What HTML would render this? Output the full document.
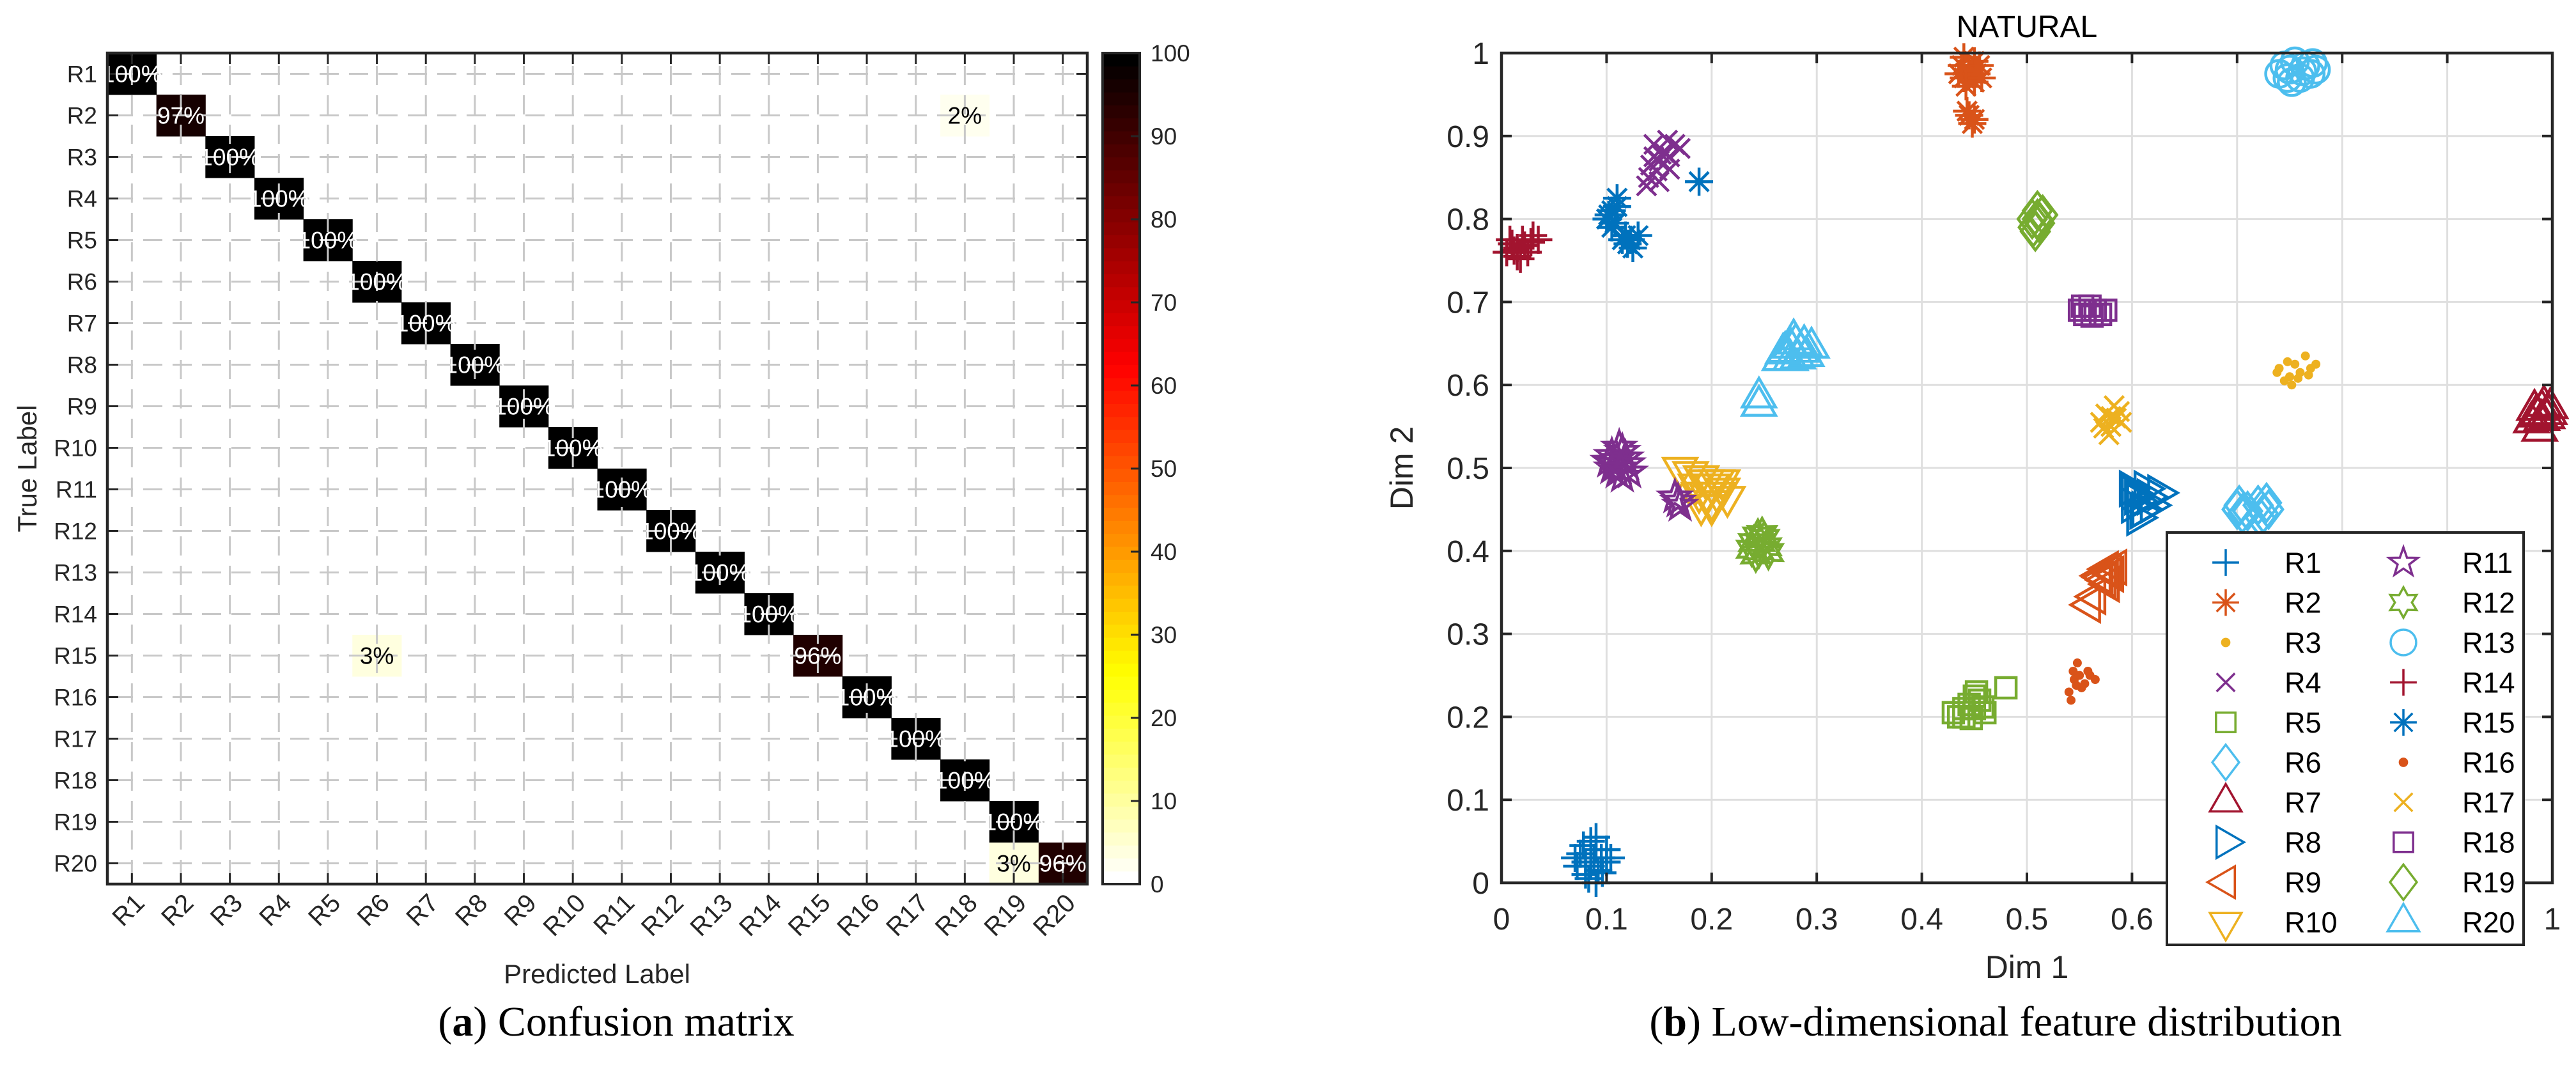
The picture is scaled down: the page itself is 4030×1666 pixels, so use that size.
<!DOCTYPE html>
<html><head><meta charset="utf-8"><style>
html,body{margin:0;padding:0;background:#fff;}
svg{display:block;}
text{font-family:"Liberation Sans",Arial,sans-serif;}
.cap{font-family:"Liberation Serif","Times New Roman",serif;}
</style></head><body>
<svg id="fig" width="4030" height="1666" viewBox="0 0 4030 1666" xmlns="http://www.w3.org/2000/svg">
<rect width="4030" height="1666" fill="#fff"/>
<g id="cm"></g>
<g id="sc"></g>
<text class="cap" x="964" y="1620" font-size="66" text-anchor="middle" fill="#000">(<tspan font-weight="bold">a</tspan>) Confusion matrix</text>
<text class="cap" x="3122" y="1620" font-size="66" text-anchor="middle" fill="#000">(<tspan font-weight="bold">b</tspan>) Low-dimensional feature distribution</text>
</svg>
<script>
// ===== Confusion matrix data =====
const classLabels = ["R1","R2","R3","R4","R5","R6","R7","R8","R9","R10","R11","R12","R13","R14","R15","R16","R17","R18","R19","R20"];
const diagValues = [100,97,100,100,100,100,100,100,100,100,100,100,100,100,96,100,100,100,100,96];
const offRows = [1,14,19];
const offCols = [17,5,18];
const offValues = [2,3,3];
const cbTicks = [0,10,20,30,40,50,60,70,80,90,100];

// ===== Scatter data =====
const dimTicks = [0,0.1,0.2,0.3,0.4,0.5,0.6,0.7,0.8,0.9,1];
const seriesNames = ["R1","R2","R3","R4","R5","R6","R7","R8","R9","R10","R11","R12","R13","R14","R15","R16","R17","R18","R19","R20"];
const r1 = [[0.075,0.035],[0.085,0.02],[0.09,0.04],[0.08,0.01],[0.095,0.03],[0.1,0.025],[0.085,0.05],[0.07,0.03],[0.09,0.0],[0.1,0.04],[0.08,0.025],[0.092,0.015],[0.078,0.045],[0.088,0.03],[0.096,0.012],[0.083,0.005],[0.104,0.03],[0.072,0.02],[0.09,0.055]];
const r2 = [[0.44,0.97],[0.45,0.99],[0.445,0.98],[0.435,0.975],[0.455,0.985],[0.45,0.965],[0.44,0.995],[0.448,0.975],[0.438,0.985],[0.452,0.975],[0.442,0.96],[0.457,0.97],[0.445,0.925],[0.448,0.915],[0.443,0.93],[0.45,0.92]];
const r3 = [[0.74,0.62],[0.75,0.61],[0.755,0.625],[0.76,0.615],[0.77,0.62],[0.775,0.625],[0.745,0.605],[0.765,0.635],[0.752,0.6],[0.738,0.615],[0.748,0.628],[0.758,0.608],[0.768,0.612]];
const r4 = [[0.14,0.85],[0.15,0.87],[0.155,0.88],[0.16,0.86],[0.145,0.89],[0.165,0.89],[0.15,0.845],[0.16,0.875],[0.142,0.865],[0.148,0.858],[0.158,0.895],[0.152,0.878],[0.138,0.84],[0.17,0.885],[0.145,0.875]];
const r5 = [[0.43,0.205],[0.44,0.2],[0.45,0.21],[0.455,0.22],[0.46,0.205],[0.445,0.215],[0.45,0.225],[0.44,0.21],[0.435,0.2],[0.447,0.198],[0.458,0.212],[0.452,0.23],[0.48,0.235]];
const r6 = [[0.7,0.45],[0.705,0.445],[0.72,0.455],[0.725,0.445],[0.73,0.45],[0.71,0.448],[0.702,0.455],[0.722,0.44],[0.728,0.458]];
const r7 = [[0.985,0.565],[0.99,0.57],[0.995,0.56],[0.98,0.555],[0.992,0.575],[0.988,0.545],[0.997,0.565],[0.983,0.57],[0.99,0.558],[0.998,0.572],[0.986,0.562]];
const r8 = [[0.6,0.47],[0.605,0.46],[0.61,0.45],[0.615,0.465],[0.625,0.47],[0.605,0.44],[0.6,0.455],[0.612,0.475],[0.603,0.465],[0.608,0.448],[0.618,0.455],[0.598,0.475]];
const r9 = [[0.57,0.37],[0.575,0.365],[0.58,0.375],[0.585,0.38],[0.578,0.36],[0.572,0.368],[0.582,0.372],[0.577,0.378],[0.56,0.335],[0.565,0.345]];
const r10 = [[0.17,0.5],[0.18,0.495],[0.19,0.49],[0.2,0.48],[0.21,0.475],[0.195,0.47],[0.2,0.46],[0.185,0.48],[0.215,0.465],[0.205,0.485],[0.19,0.455],[0.195,0.485],[0.205,0.47],[0.188,0.47],[0.21,0.485],[0.2,0.455]];
const r11 = [[0.105,0.5],[0.11,0.51],[0.115,0.52],[0.11,0.495],[0.12,0.505],[0.105,0.515],[0.115,0.49],[0.108,0.505],[0.118,0.512],[0.112,0.525],[0.102,0.508],[0.122,0.495],[0.113,0.5],[0.168,0.46],[0.165,0.465],[0.17,0.455]];
const r12 = [[0.24,0.41],[0.245,0.4],[0.25,0.415],[0.248,0.42],[0.242,0.395],[0.252,0.405],[0.246,0.41],[0.238,0.402],[0.254,0.398],[0.244,0.418]];
const r13 = [[0.74,0.975],[0.75,0.98],[0.76,0.97],[0.765,0.985],[0.775,0.98],[0.755,0.99],[0.745,0.985],[0.77,0.975],[0.752,0.965],[0.762,0.978],[0.748,0.97],[0.772,0.988]];
const r14 = [[0.005,0.76],[0.015,0.765],[0.02,0.775],[0.01,0.77],[0.025,0.76],[0.035,0.775],[0.015,0.755],[0.03,0.78],[0.012,0.762],[0.022,0.768],[0.018,0.752],[0.008,0.775],[0.028,0.772]];
const r15 = [[0.1,0.8],[0.105,0.81],[0.11,0.825],[0.105,0.79],[0.115,0.775],[0.12,0.77],[0.13,0.78],[0.125,0.765],[0.102,0.805],[0.108,0.795],[0.118,0.78],[0.123,0.775],[0.11,0.815],[0.188,0.845]];
const r16 = [[0.54,0.23],[0.545,0.245],[0.55,0.25],[0.555,0.24],[0.56,0.25],[0.565,0.245],[0.548,0.265],[0.542,0.22],[0.552,0.235],[0.547,0.238],[0.558,0.255],[0.544,0.255]];
const r17 = [[0.57,0.555],[0.575,0.565],[0.58,0.55],[0.585,0.56],[0.59,0.555],[0.578,0.54],[0.583,0.575],[0.573,0.548],[0.588,0.568],[0.58,0.562]];
const r18 = [[0.55,0.69],[0.555,0.685],[0.56,0.695],[0.565,0.69],[0.575,0.69],[0.57,0.685],[0.553,0.695],[0.562,0.683]];
const r19 = [[0.505,0.8],[0.51,0.81],[0.512,0.795],[0.508,0.785],[0.515,0.805],[0.506,0.79],[0.51,0.8]];
const r20 = [[0.265,0.63],[0.27,0.64],[0.275,0.645],[0.28,0.65],[0.285,0.64],[0.29,0.635],[0.295,0.645],[0.275,0.63],[0.268,0.638],[0.282,0.632],[0.278,0.655],[0.288,0.648],[0.245,0.575],[0.245,0.585]];
const seriesPoints = [r1,r2,r3,r4,r5,r6,r7,r8,r9,r10,r11,r12,r13,r14,r15,r16,r17,r18,r19,r20];
const seriesColors = ["#0072BD","#D95319","#EDB120","#7E2F8E","#77AC30","#4DBEEE","#A2142F","#0072BD","#D95319","#EDB120","#7E2F8E","#77AC30","#4DBEEE","#A2142F","#0072BD","#D95319","#EDB120","#7E2F8E","#77AC30","#4DBEEE"];
const seriesMarkers = ["+","*",".","x","s","d","^",">","<","v","p","h","o","+","*",".","x","s","d","^"];

const NS="http://www.w3.org/2000/svg";
function mk(tag,attrs,parent){const e=document.createElementNS(NS,tag);for(const k in attrs)e.setAttribute(k,attrs[k]);if(parent)parent.appendChild(e);return e;}

// ---------- Confusion matrix ----------
const cm=document.getElementById('cm');
const X0=168,Y0=83,X1=1701,Y1=1383,N=classLabels.length;
const cw=(X1-X0)/N,ch=(Y1-Y0)/N;
function colX(i){return X0+i*cw;}
function rowY(i){return Y0+i*ch;}
function hotR(v){const s=1-v/100;const r=Math.min(1,s/0.375),g=Math.max(0,Math.min(1,(s-0.375)/0.375)),b=Math.max(0,Math.min(1,(s-0.75)/0.25));return `rgb(${Math.round(r*255)},${Math.round(g*255)},${Math.round(b*255)})`;}
function quant(v){return Math.round(v/100*63)/63*100;}
const cells=[];
diagValues.forEach((v,i)=>cells.push([i,i,v]));
offValues.forEach((v,k)=>cells.push([offRows[k],offCols[k],v]));
cells.forEach(([r,c,v])=>{
  const rc=mk('rect',{x:colX(c),y:rowY(r),width:cw+0.5,height:ch+0.5,fill:hotR(quant(v))},cm);
  
  
});
for(let i=0;i<N;i++){
  const cx=colX(i)+cw/2, cy=rowY(i)+ch/2;
  const gv=mk('line',{x1:cx,y1:Y0,x2:cx,y2:Y1,stroke:'#c8c8c8','stroke-width':3,'stroke-dasharray':'30 16','stroke-dashoffset':'-20'},cm);
  
  
  const gh=mk('line',{x1:X0,y1:cy,x2:X1,y2:cy,stroke:'#c8c8c8','stroke-width':3,'stroke-dasharray':'30 16','stroke-dashoffset':'-10'},cm);
  
  
  mk('line',{x1:X0,y1:cy,x2:X0+17,y2:cy,stroke:'#262626','stroke-width':3},cm);
  mk('line',{x1:X1,y1:cy,x2:X1-17,y2:cy,stroke:'#262626','stroke-width':3},cm);
  mk('line',{x1:cx,y1:Y0,x2:cx,y2:Y0+17,stroke:'#262626','stroke-width':3},cm);
  mk('line',{x1:cx,y1:Y1,x2:cx,y2:Y1-17,stroke:'#262626','stroke-width':3},cm);
  const yl=mk('text',{x:X0-16,y:cy+13,'font-size':37,'text-anchor':'end',fill:'#262626'},cm);
  yl.textContent=classLabels[i];
  
  
  const xl=mk('text',{x:0,y:0,'font-size':40,'text-anchor':'end',fill:'#262626',transform:`translate(${cx+22},${Y1+32}) rotate(-45)`},cm);
  xl.textContent=classLabels[i];
  
  
}
cells.forEach(([r,c,v])=>{
  const t=mk('text',{x:colX(c)+cw/2,y:rowY(r)+ch/2+13,'font-size':37,'text-anchor':'middle',fill:v>50?'#fff':'#000'},cm);
  t.textContent=v+'%';
  
  
});
mk('rect',{x:X0,y:Y0,width:X1-X0,height:Y1-Y0,fill:'none',stroke:'#262626','stroke-width':4.5},cm);
let t=mk('text',{x:934,y:1538,'font-size':42,'text-anchor':'middle',fill:'#262626'},cm);
t.textContent='Predicted Label';


t=mk('text',{x:0,y:0,'font-size':42,'text-anchor':'middle',fill:'#262626',transform:'translate(57,733) rotate(-90)'},cm);
t.textContent='True Label';


const CB0=1725,CB1=1783;
const cbG=mk('g',{},cm);


for(let k=0;k<64;k++){
  const y0=Y1-(k+1)*(Y1-Y0)/64;
  mk('rect',{x:CB0,y:y0,width:CB1-CB0,height:(Y1-Y0)/64+0.6,fill:hotR(k/63*100)},cbG);
}
mk('rect',{x:CB0,y:Y0,width:CB1-CB0,height:Y1-Y0,fill:'none',stroke:'#262626','stroke-width':4},cbG);
function cbY(v){return Y1-(v-cbTicks[0])/(cbTicks[cbTicks.length-1]-cbTicks[0])*(Y1-Y0);}
cbTicks.forEach(v=>{
  const y=cbY(v);
  mk('line',{x1:CB1,y1:y,x2:CB1-14,y2:y,stroke:'#262626','stroke-width':3},cbG);
  const l=mk('text',{x:1800,y:y+13,'font-size':37,fill:'#262626'},cbG);
  l.textContent=v;
  
  
});

// ---------- Scatter ----------
const sc=document.getElementById('sc');
const RX0=2349,RX1=3993,RY0=83,RY1=1381;
function sx(v){return RX0+(v-dimTicks[0])/(dimTicks[dimTicks.length-1]-dimTicks[0])*(RX1-RX0);}
function sy(v){return RY1-(v-dimTicks[0])/(dimTicks[dimTicks.length-1]-dimTicks[0])*(RY1-RY0);}
dimTicks.forEach(v=>{
  const x=sx(v),y=sy(v);
  mk('line',{x1:x,y1:RY0,x2:x,y2:RY1,stroke:'#dfdfdf','stroke-width':3},sc);
  mk('line',{x1:RX0,y1:y,x2:RX1,y2:y,stroke:'#dfdfdf','stroke-width':3},sc);
});
function marker(g,type,cx,cy,color,sc1,swd){
  const s=sc1||1,sw=swd||3.5;const st={stroke:color,'stroke-width':sw,fill:'none'};
  const P=(pts)=>mk('polygon',Object.assign({points:pts.map(p=>(cx+p[0]*s)+','+(cy+p[1]*s)).join(' ')},st),g);
  if(type==='+'){mk('path',Object.assign({d:`M${cx-22*s} ${cy}H${cx+22*s}M${cx} ${cy-22*s}V${cy+22*s}`},st),g);}
  else if(type==='x'){mk('path',Object.assign({d:`M${cx-15*s} ${cy-15*s}L${cx+15*s} ${cy+15*s}M${cx-15*s} ${cy+15*s}L${cx+15*s} ${cy-15*s}`},st),g);}
  else if(type==='*'){mk('path',Object.assign({d:`M${cx-22*s} ${cy}H${cx+22*s}M${cx} ${cy-22*s}V${cy+22*s}M${cx-15*s} ${cy-15*s}L${cx+15*s} ${cy+15*s}M${cx-15*s} ${cy+15*s}L${cx+15*s} ${cy-15*s}`},st),g);}
  else if(type==='.'){mk('circle',{cx:cx,cy:cy,r:7*s,fill:color},g);}
  else if(type==='s'){mk('rect',Object.assign({x:cx-16*s,y:cy-16*s,width:32*s,height:32*s},st),g);}
  else if(type==='d'){P([[0,-29],[22,0],[0,29],[-22,0]]);}
  else if(type==='^'){P([[0,-30],[26,15],[-26,15]]);}
  else if(type==='v'){P([[0,30],[26,-15],[-26,-15]]);}
  else if(type==='>'){P([[30,0],[-15,-26],[-15,26]]);}
  else if(type==='<'){P([[-30,0],[15,-26],[15,26]]);}
  else if(type==='o'){mk('ellipse',Object.assign({cx:cx,cy:cy,rx:21*s,ry:21*s},st),g);}
  else if(type==='p'){const pts=[];for(let k=0;k<10;k++){const a=-Math.PI/2+k*Math.PI/5,r=k%2?10:25;pts.push([r*Math.cos(a),r*Math.sin(a)]);}P(pts);}
  else if(type==='h'){const pts=[];for(let k=0;k<12;k++){const a=-Math.PI/2+k*Math.PI/6,r=k%2?14:25;pts.push([r*Math.cos(a),r*Math.sin(a)]);}P(pts);}
}
seriesPoints.forEach((pts,i)=>{
  const g=mk('g',{},sc);
  
  
  pts.forEach(p=>marker(g,seriesMarkers[i],sx(p[0]),sy(p[1]),seriesColors[i],1,4.5));
});
mk('rect',{x:RX0,y:RY0,width:RX1-RX0,height:RY1-RY0,fill:'none',stroke:'#262626','stroke-width':4.5},sc);
dimTicks.forEach(v=>{
  const x=sx(v),y=sy(v);
  mk('line',{x1:x,y1:RY1,x2:x,y2:RY1-16,stroke:'#262626','stroke-width':4},sc);
  mk('line',{x1:x,y1:RY0,x2:x,y2:RY0+16,stroke:'#262626','stroke-width':4},sc);
  mk('line',{x1:RX0,y1:y,x2:RX0+16,y2:y,stroke:'#262626','stroke-width':4},sc);
  mk('line',{x1:RX1,y1:y,x2:RX1-16,y2:y,stroke:'#262626','stroke-width':4},sc);
  const xl=mk('text',{x:x,y:1454,'font-size':48,'text-anchor':'middle',fill:'#262626'},sc);
  xl.textContent=String(v);
  
  
  const yl=mk('text',{x:2330,y:y+17,'font-size':48,'text-anchor':'end',fill:'#262626'},sc);
  yl.textContent=String(v);
  
  
});
t=mk('text',{x:3171,y:58,'font-size':48,'text-anchor':'middle',fill:'#000'},sc);
t.textContent='NATURAL';


t=mk('text',{x:3171,y:1530,'font-size':50,'text-anchor':'middle',fill:'#262626'},sc);
t.textContent='Dim 1';


t=mk('text',{x:0,y:0,'font-size':50,'text-anchor':'middle',fill:'#262626',transform:'translate(2210,732) rotate(-90)'},sc);
t.textContent='Dim 2';


const lg=mk('g',{},sc);


mk('rect',{x:3390,y:833,width:558,height:645,fill:'#fff',stroke:'#262626','stroke-width':4},lg);
seriesNames.forEach((nm,i)=>{
  const col=Math.floor(i/10),row=i%10;
  const cy=880+row*62.5;
  const mx=col?3760:3482, tx=col?3852:3574;
  const e=mk('g',{},lg);
  
  
  marker(e,seriesMarkers[i],mx,cy,seriesColors[i],seriesMarkers[i]==='.'?1.05:0.95,3.5);
  const l=mk('text',{x:tx,y:cy+16,'font-size':45,fill:'#000'},e);
  l.textContent=nm;
});
</script>
</body></html>
